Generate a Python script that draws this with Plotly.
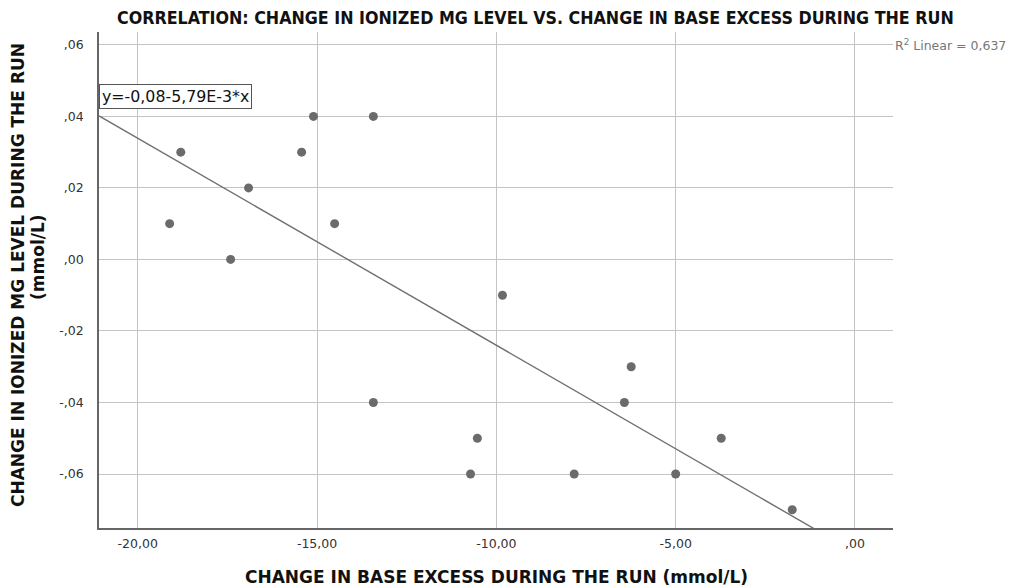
import plotly.graph_objects as go

# Data
base_excess_change = [-19.11, -18.80, -17.41, -16.91, -15.43, -15.10, -14.51, -13.43, -13.43,
                      -9.83, -10.53, -10.72, -7.83, -6.24, -6.43, -5.00, -3.73, -1.75]
mg_change = [0.01, 0.03, 0.00, 0.02, 0.03, 0.04, 0.01, 0.04, -0.04,
             -0.01, -0.05, -0.06, -0.06, -0.03, -0.04, -0.06, -0.05, -0.07]

fit_intercept = -0.0819
fit_slope = -0.00579
r2_text = "R<sup>2</sup> Linear = 0,637"
eq_text = "y=-0,08-5,79E-3*x"

x_tickvals = [-20, -15, -10, -5, 0]
x_ticktext = ["-20,00", "-15,00", "-10,00", "-5,00", ",00"]
y_tickvals = [0.06, 0.04, 0.02, 0.00, -0.02, -0.04, -0.06]
y_ticktext = [",06", ",04", ",02", ",00", "-,02", "-,04", "-,06"]

x_range = [-21.08, 1.06]
y_range = [-0.0751, 0.0636]

fit_x = x_range
fit_y = [fit_intercept + fit_slope * v for v in fit_x]

fig = go.Figure()
fig.add_trace(go.Scatter(x=fit_x, y=fit_y, mode="lines",
                         line=dict(color="#707070", width=1.4), hoverinfo="skip",
                         showlegend=False))
fig.add_trace(go.Scatter(x=base_excess_change, y=mg_change, mode="markers",
                         marker=dict(color="#6b6b6b", size=9), showlegend=False))

tick_font = dict(family="DejaVu Sans", size=12.5, color="#333333")
fig.update_xaxes(range=x_range, tickvals=x_tickvals, ticktext=x_ticktext,
                 showgrid=True, gridcolor="#c4c4c4", gridwidth=1.2,
                 showline=True, linecolor="#666666", linewidth=1.5,
                 zeroline=False, ticks="", tickfont=tick_font, ticklabelstandoff=3)
fig.update_yaxes(range=y_range, tickvals=y_tickvals, ticktext=y_ticktext,
                 showgrid=True, gridcolor="#c4c4c4", gridwidth=1.2,
                 showline=True, linecolor="#666666", linewidth=1.5,
                 zeroline=False, ticks="", tickfont=tick_font, ticklabelstandoff=11)

title_font = dict(family="DejaVu Sans Condensed, DejaVu Sans, sans-serif", size=17.7, color="#111111")
axis_font = dict(family="DejaVu Sans", size=17, color="#111111")

W, H = 1014, 588
L, R, T, B = 99, 121, 32, 60
pw, ph = W - L - R, H - T - B

fig.update_layout(
    width=W, height=H,
    margin=dict(l=L, r=R, t=T, b=B),
    paper_bgcolor="white", plot_bgcolor="white",
    annotations=[
        dict(text="<b>CORRELATION: CHANGE IN IONIZED MG LEVEL VS. CHANGE IN BASE EXCESS DURING THE RUN</b>",
             xref="paper", yref="paper", x=(535 - L) / pw, y=1, yshift=14,
             xanchor="center", yanchor="middle", showarrow=False, font=title_font),
        dict(text="<b>CHANGE IN BASE EXCESS DURING THE RUN (mmol/L)</b>",
             xref="paper", yref="paper", x=0.5, y=0, yshift=-49,
             xanchor="center", yanchor="middle", showarrow=False, font=axis_font),
        dict(text="<b>CHANGE IN IONIZED MG LEVEL DURING THE RUN</b>",
             xref="paper", yref="paper", x=0, xshift=-81, y=(H - B - 275) / ph,
             xanchor="center", yanchor="middle", textangle=-90, showarrow=False, font=axis_font),
        dict(text="<b>(mmol/L)</b>",
             xref="paper", yref="paper", x=0, xshift=-61, y=(H - B - 257) / ph,
             xanchor="center", yanchor="middle", textangle=-90, showarrow=False, font=axis_font),
        dict(text=r2_text, xref="paper", yref="y", x=1, y=0.06, xshift=0,
             xanchor="left", yanchor="middle", showarrow=False,
             font=dict(family="DejaVu Sans", size=12.5, color="#777777")),
        dict(text=eq_text, xref="paper", yref="paper", x=0, y=(H - B - 96) / ph,
             xanchor="left", yanchor="middle", showarrow=False,
             bordercolor="#555555", borderwidth=1, borderpad=2, bgcolor="white",
             font=dict(family="DejaVu Sans", size=15.8, color="#111111")),
    ],
)

fig.write_html("out.html", config={"displayModeBar": False},
               post_script="document.body.style.margin='0';document.body.style.overflow='hidden';")
